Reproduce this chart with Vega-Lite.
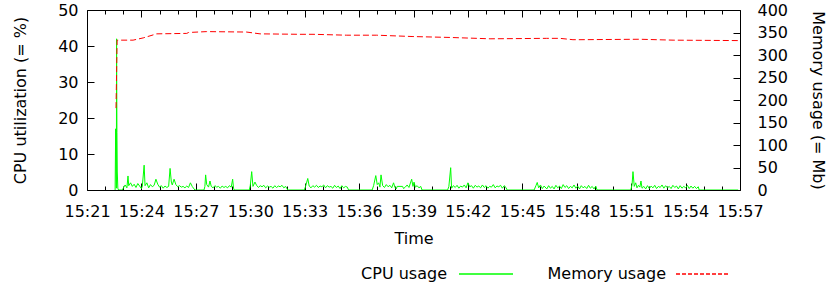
{
  "$schema": "https://vega.github.io/schema/vega-lite/v6.json",
  "width": 653,
  "height": 180,
  "autosize": {"type": "none"},
  "padding": {"left": 87, "top": 10, "right": 89, "bottom": 98},
  "background": "white",
  "config": {
    "font": "DejaVu Sans",
    "view": {"stroke": "black", "strokeWidth": 1},
    "axis": {
      "domain": false, "grid": false, "tickColor": "black", "tickWidth": 1,
      "labelColor": "black", "labelFontSize": 16, "labelFont": "DejaVu Sans",
      "titleColor": "black", "titleFontSize": 16, "titleFontWeight": "normal", "titleFont": "DejaVu Sans"
    },
    "legend": {"labelFontSize": 16, "labelColor": "black", "labelFont": "DejaVu Sans"}
  },
  "datasets": {
    "cpu": [
      {"t":22.55,"cpu":0},{"t":22.58,"cpu":17},{"t":22.6,"cpu":5},{"t":22.62,"cpu":0.5},{"t":22.63,"cpu":42},{"t":22.65,"cpu":16},{"t":22.67,"cpu":5},{"t":22.7,"cpu":0.5},{"t":22.74,"cpu":0},{"t":22.95,"cpu":0},
      {"t":23.0,"cpu":0.5},{"t":23.1,"cpu":1.4},{"t":23.2,"cpu":0.6},{"t":23.26,"cpu":3.9},{"t":23.3,"cpu":1.2},{"t":23.4,"cpu":2.0},{"t":23.5,"cpu":1.0},{"t":23.6,"cpu":1.6},{"t":23.7,"cpu":0.7},{"t":23.8,"cpu":1.8},{"t":23.9,"cpu":1.1},{"t":24.0,"cpu":0.4},{"t":24.05,"cpu":1.0},{"t":24.15,"cpu":6.9},{"t":24.2,"cpu":1.2},{"t":24.3,"cpu":2.0},{"t":24.4,"cpu":0.6},{"t":24.5,"cpu":1.5},{"t":24.6,"cpu":0.9},{"t":24.7,"cpu":1.3},{"t":24.8,"cpu":3.0},{"t":24.9,"cpu":1.6},{"t":25.0,"cpu":0.8},{"t":25.1,"cpu":1.2},{"t":25.2,"cpu":0.5},{"t":25.3,"cpu":1.1},{"t":25.4,"cpu":0.7},{"t":25.5,"cpu":1.0},{"t":25.58,"cpu":6.0},{"t":25.65,"cpu":2.2},{"t":25.7,"cpu":1.4},{"t":25.8,"cpu":3.0},{"t":25.9,"cpu":1.5},{"t":26.0,"cpu":0.9},{"t":26.1,"cpu":1.2},{"t":26.2,"cpu":0.8},{"t":26.3,"cpu":1.0},{"t":26.4,"cpu":0.6},{"t":26.5,"cpu":1.1},{"t":26.6,"cpu":0.7},{"t":26.7,"cpu":2.0},{"t":26.8,"cpu":1.0},{"t":26.9,"cpu":0.3},{"t":26.95,"cpu":0},
      {"t":27.45,"cpu":0},{"t":27.5,"cpu":1.0},{"t":27.54,"cpu":4.2},{"t":27.6,"cpu":1.5},{"t":27.7,"cpu":0.8},{"t":27.78,"cpu":2.5},{"t":27.85,"cpu":1.0},{"t":27.95,"cpu":0.6},{"t":28.05,"cpu":1.2},{"t":28.15,"cpu":0.8},{"t":28.25,"cpu":1.0},{"t":28.35,"cpu":0.5},{"t":28.45,"cpu":1.1},{"t":28.55,"cpu":0.7},{"t":28.65,"cpu":1.0},{"t":28.75,"cpu":0.6},{"t":28.85,"cpu":1.2},{"t":28.95,"cpu":0.8},{"t":29.03,"cpu":3.0},{"t":29.08,"cpu":0.5},{"t":29.12,"cpu":0},
      {"t":29.95,"cpu":0},{"t":30.0,"cpu":1.2},{"t":30.08,"cpu":5.1},{"t":30.15,"cpu":1.0},{"t":30.26,"cpu":2.2},{"t":30.35,"cpu":1.3},{"t":30.45,"cpu":0.7},{"t":30.55,"cpu":1.2},{"t":30.65,"cpu":0.9},{"t":30.75,"cpu":1.3},{"t":30.85,"cpu":0.6},{"t":30.95,"cpu":1.1},{"t":31.05,"cpu":0.8},{"t":31.15,"cpu":1.0},{"t":31.25,"cpu":0.5},{"t":31.35,"cpu":1.2},{"t":31.45,"cpu":0.7},{"t":31.55,"cpu":1.1},{"t":31.65,"cpu":0.9},{"t":31.75,"cpu":1.3},{"t":31.85,"cpu":0.6},{"t":31.95,"cpu":1.0},{"t":32.02,"cpu":0.4},{"t":32.06,"cpu":0},
      {"t":32.98,"cpu":0},{"t":33.05,"cpu":1.0},{"t":33.17,"cpu":3.2},{"t":33.25,"cpu":1.1},{"t":33.35,"cpu":0.6},{"t":33.45,"cpu":1.2},{"t":33.55,"cpu":0.8},{"t":33.65,"cpu":1.3},{"t":33.75,"cpu":0.7},{"t":33.85,"cpu":1.1},{"t":33.95,"cpu":0.9},{"t":34.05,"cpu":1.4},{"t":34.15,"cpu":0.6},{"t":34.25,"cpu":1.2},{"t":34.35,"cpu":0.8},{"t":34.45,"cpu":1.0},{"t":34.55,"cpu":0.5},{"t":34.65,"cpu":1.3},{"t":34.75,"cpu":0.7},{"t":34.85,"cpu":1.1},{"t":34.95,"cpu":0.4},{"t":35.05,"cpu":1.2},{"t":35.15,"cpu":0.6},{"t":35.25,"cpu":1.0},{"t":35.35,"cpu":0.8},{"t":35.42,"cpu":0},
      {"t":36.72,"cpu":0},{"t":36.8,"cpu":1.2},{"t":36.92,"cpu":4.0},{"t":37.0,"cpu":1.5},{"t":37.08,"cpu":2.0},{"t":37.15,"cpu":0.8},{"t":37.21,"cpu":4.2},{"t":37.3,"cpu":1.2},{"t":37.4,"cpu":0.7},{"t":37.5,"cpu":1.5},{"t":37.6,"cpu":0.9},{"t":37.7,"cpu":1.3},{"t":37.8,"cpu":0.6},{"t":37.9,"cpu":2.0},{"t":37.97,"cpu":0.8},{"t":38.05,"cpu":0.3},{"t":38.1,"cpu":1.0},{"t":38.4,"cpu":1.0},{"t":38.45,"cpu":0.4},{"t":38.55,"cpu":0.8},{"t":38.65,"cpu":1.4},{"t":38.75,"cpu":0.7},{"t":38.9,"cpu":3.0},{"t":38.97,"cpu":1.0},{"t":39.03,"cpu":2.2},{"t":39.1,"cpu":0.8},{"t":39.2,"cpu":1.2},{"t":39.3,"cpu":0.6},{"t":39.4,"cpu":1.0},{"t":39.47,"cpu":0},
      {"t":40.88,"cpu":0},{"t":40.95,"cpu":1.0},{"t":41.05,"cpu":6.2},{"t":41.1,"cpu":0.5},{"t":41.2,"cpu":1.2},{"t":41.3,"cpu":0.7},{"t":41.4,"cpu":1.3},{"t":41.5,"cpu":0.5},{"t":41.6,"cpu":1.1},{"t":41.7,"cpu":0.8},{"t":41.8,"cpu":1.4},{"t":41.9,"cpu":0.6},{"t":42.0,"cpu":2.0},{"t":42.1,"cpu":0.9},{"t":42.2,"cpu":1.2},{"t":42.3,"cpu":0.5},{"t":42.4,"cpu":1.3},{"t":42.5,"cpu":0.8},{"t":42.6,"cpu":1.1},{"t":42.7,"cpu":0.6},{"t":42.8,"cpu":1.4},{"t":42.9,"cpu":0.7},{"t":43.0,"cpu":1.2},{"t":43.1,"cpu":0.5},{"t":43.2,"cpu":1.0},{"t":43.3,"cpu":0.8},{"t":43.4,"cpu":1.5},{"t":43.5,"cpu":0.6},{"t":43.6,"cpu":1.1},{"t":43.7,"cpu":0.9},{"t":43.8,"cpu":1.3},{"t":43.9,"cpu":0.5},{"t":44.0,"cpu":1.2},{"t":44.1,"cpu":0.7},{"t":44.16,"cpu":0},
      {"t":45.65,"cpu":0},{"t":45.75,"cpu":1.2},{"t":45.82,"cpu":2.1},{"t":45.9,"cpu":0.6},{"t":46.0,"cpu":1.4},{"t":46.1,"cpu":0.4},{"t":46.2,"cpu":1.1},{"t":46.35,"cpu":0.3},{"t":46.45,"cpu":1.2},{"t":46.55,"cpu":0.5},{"t":46.65,"cpu":1.0},{"t":46.75,"cpu":0.3},{"t":46.85,"cpu":1.3},{"t":46.95,"cpu":0.6},{"t":47.05,"cpu":1.1},{"t":47.15,"cpu":0.4},{"t":47.25,"cpu":1.5},{"t":47.35,"cpu":0.7},{"t":47.45,"cpu":1.2},{"t":47.55,"cpu":0.4},{"t":47.65,"cpu":1.0},{"t":47.75,"cpu":0.6},{"t":47.85,"cpu":1.4},{"t":47.95,"cpu":0.5},{"t":48.05,"cpu":1.1},{"t":48.15,"cpu":0.3},{"t":48.25,"cpu":1.2},{"t":48.35,"cpu":0.6},{"t":48.45,"cpu":1.0},{"t":48.55,"cpu":0.4},{"t":48.65,"cpu":1.3},{"t":48.75,"cpu":0.5},{"t":48.85,"cpu":1.0},{"t":48.95,"cpu":0.3},{"t":49.05,"cpu":1.1},{"t":49.12,"cpu":0},
      {"t":50.98,"cpu":0},{"t":51.05,"cpu":1.5},{"t":51.1,"cpu":5.1},{"t":51.17,"cpu":1.0},{"t":51.25,"cpu":2.0},{"t":51.32,"cpu":0.6},{"t":51.4,"cpu":1.3},{"t":51.48,"cpu":0.8},{"t":51.54,"cpu":2.5},{"t":51.6,"cpu":0.5},{"t":51.7,"cpu":1.0},{"t":51.8,"cpu":0.3},{"t":51.9,"cpu":1.2},{"t":52.0,"cpu":0.4},{"t":52.1,"cpu":1.1},{"t":52.2,"cpu":0.6},{"t":52.3,"cpu":1.3},{"t":52.4,"cpu":0.4},{"t":52.5,"cpu":1.0},{"t":52.6,"cpu":0.7},{"t":52.7,"cpu":1.4},{"t":52.8,"cpu":0.5},{"t":52.9,"cpu":1.2},{"t":53.0,"cpu":0.6},{"t":53.1,"cpu":1.0},{"t":53.2,"cpu":0.4},{"t":53.3,"cpu":1.3},{"t":53.4,"cpu":0.7},{"t":53.5,"cpu":1.1},{"t":53.6,"cpu":0.3},{"t":53.7,"cpu":1.2},{"t":53.8,"cpu":0.5},{"t":53.9,"cpu":1.0},{"t":54.0,"cpu":0.6},{"t":54.1,"cpu":1.3},{"t":54.2,"cpu":0.4},{"t":54.3,"cpu":1.1},{"t":54.4,"cpu":0.5},{"t":54.5,"cpu":1.0},{"t":54.6,"cpu":0.4},{"t":54.7,"cpu":0.9},{"t":54.75,"cpu":0},{"t":56.9,"cpu":0}
    ],
    "mem": [
      {"t":22.6,"mem":182},{"t":22.66,"mem":333},{"t":23.54,"mem":333},{"t":24.1,"mem":338},{"t":24.84,"mem":347},{"t":26.5,"mem":348},{"t":26.6,"mem":350},{"t":27.6,"mem":352},{"t":29.8,"mem":351},{"t":30.54,"mem":347},{"t":32.74,"mem":346},{"t":33.46,"mem":346},{"t":35.32,"mem":344},{"t":36.97,"mem":344},{"t":38.97,"mem":341},{"t":41.01,"mem":339},{"t":43.22,"mem":336},{"t":46.34,"mem":337},{"t":47.07,"mem":337},{"t":47.79,"mem":334},{"t":48.18,"mem":334},{"t":51.49,"mem":335},{"t":53.31,"mem":333},{"t":57.0,"mem":332}
    ]
  },
  "layer": [
    {
      "data": {"name": "cpu"},
      "mark": {"type": "line", "strokeWidth": 1, "clip": true},
      "encoding": {
        "x": {
          "field": "t", "type": "quantitative",
          "scale": {"domain": [21, 57], "nice": false, "zero": false},
          "axis": {
            "orient": "bottom", "title": "Time", "titlePadding": 8,
            "values": [21,22,23,24,25,26,27,28,29,30,31,32,33,34,35,36,37,38,39,40,41,42,43,44,45,46,47,48,49,50,51,52,53,54,55,56,57],
            "labelExpr": "datum.value % 3 == 0 ? '15:' + datum.value : ''",
            "tickSize": {"expr": "datum.value % 3 == 0 ? -7 : -4"},
            "labelPadding": 20, "labelFlush": false, "labelOverlap": false
          }
        },
        "y": {
          "field": "cpu", "type": "quantitative",
          "scale": {"domain": [0, 50], "nice": false},
          "axis": {"orient": "left", "title": "CPU utilization (= %)", "values": [0,10,20,30,40,50], "tickSize": -7, "labelPadding": 16, "titlePadding": 29}
        },
        "color": {
          "datum": "CPU usage", "type": "nominal",
          "scale": {"domain": ["CPU usage"], "range": ["#00ff00"]},
          "legend": {
            "title": null, "orient": "none", "legendX": 371, "legendY": 254,
            "symbolType": "M-3,0H3", "symbolSize": 324, "symbolStrokeWidth": 1.5, "symbolStrokeColor": "#00ff00", "symbolFillColor": "transparent", "symbolOpacity": 1,
            "symbolOffset": 18, "labelAlign": "right", "labelOffset": -49
          }
        }
      }
    },
    {
      "data": {"name": "mem"},
      "mark": {"type": "line", "strokeWidth": 1, "strokeDash": [6, 3], "clip": true},
      "encoding": {
        "x": {
          "field": "t", "type": "quantitative",
          "axis": {
            "orient": "top", "title": null, "labels": false,
            "values": [21,22,23,24,25,26,27,28,29,30,31,32,33,34,35,36,37,38,39,40,41,42,43,44,45,46,47,48,49,50,51,52,53,54,55,56,57],
            "tickSize": {"expr": "datum.value % 3 == 0 ? -7 : -4"}
          }
        },
        "y": {
          "field": "mem", "type": "quantitative",
          "scale": {"domain": [0, 400], "nice": false},
          "axis": {"orient": "right", "title": "Memory usage (= Mb)", "values": [0,50,100,150,200,250,300,350,400], "tickSize": -7, "labelPadding": 24, "titlePadding": 22}
        },
        "color": {
          "datum": "Memory usage", "type": "nominal",
          "scale": {"domain": ["Memory usage"], "range": ["#ff0000"]},
          "legend": {
            "title": null, "orient": "none", "legendX": 588, "legendY": 254,
            "symbolType": "M-3,0H3", "symbolSize": 324, "symbolStrokeWidth": 1.5, "symbolDash": [4, 2], "symbolStrokeColor": "#ff0000", "symbolFillColor": "transparent", "symbolOpacity": 1,
            "symbolOffset": 18, "labelAlign": "right", "labelOffset": -47
          }
        }
      }
    }
  ],
  "resolve": {"scale": {"y": "independent", "color": "independent"}, "axis": {"x": "independent"}}
}
